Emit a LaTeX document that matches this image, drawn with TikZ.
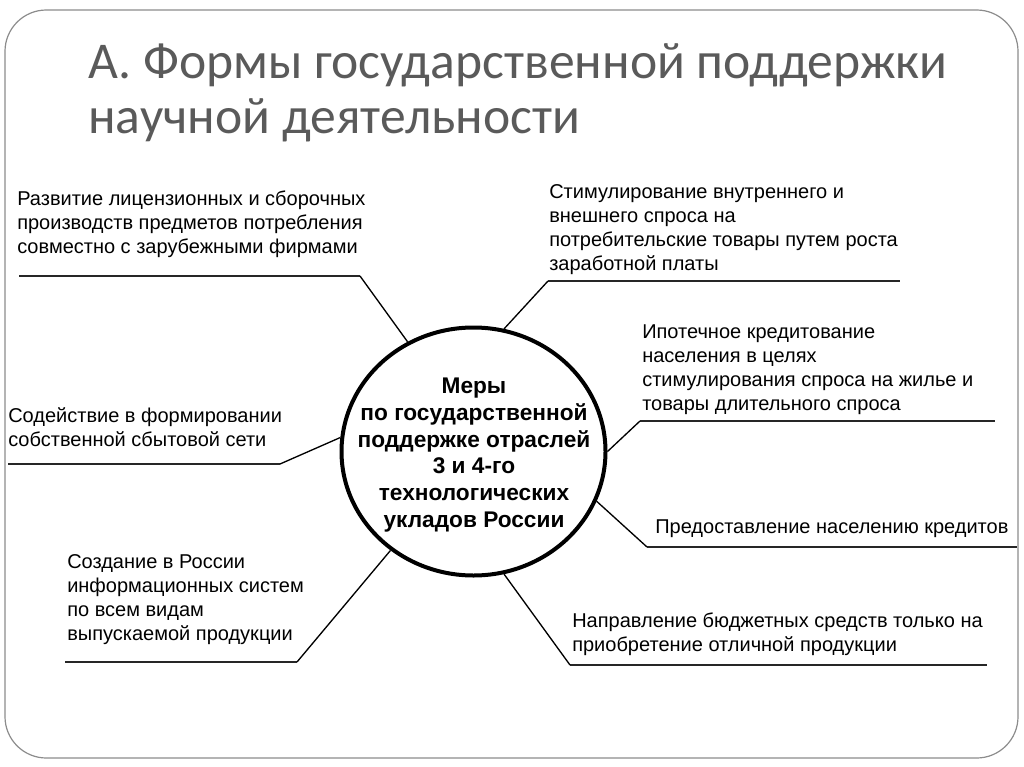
\documentclass[tikz,border=0pt]{standalone}
\usepackage{fontspec}
\setmainfont{Liberation Sans}
\newfontfamily\titlefont{Carlito}
\usetikzlibrary{shapes.geometric}
\definecolor{titlegray}{RGB}{90,90,90}
\definecolor{framegray}{RGB}{140,140,140}
\begin{document}
\begin{tikzpicture}[x=0.75pt,y=-0.75pt,
  lbl/.style={anchor=base west, align=left, inner sep=0pt, font=\fontsize{15pt}{18pt}\selectfont},
  uline/.style={line width=1.4pt, draw=black!85},
  conn/.style={line width=1pt, draw=black},
  hub/.style={ellipse, draw, line width=3pt, minimum width=198pt, minimum height=186pt, inner sep=0pt}]
\useasboundingbox (0,0) rectangle (1024,767);
\draw[framegray, line width=0.9pt, rounded corners=31pt] (5,10) rectangle (1018,758);

\node[anchor=base west, inner sep=0pt, text=titlegray, align=left,
      font=\titlefont\fontsize{38.7pt}{41.25pt}\selectfont] (title) at (88,133)
  {А. Формы государственной поддержки\\научной деятельности};

\node[hub] (c) at (473.5,451.5) {};
\node[anchor=base, align=center, inner sep=0pt,
      font=\bfseries\fontsize{17pt}{20pt}\selectfont] (ctext) at (474,527)
  {Меры\\по государственной\\поддержке отраслей\\3 и 4-го\\технологических\\укладов России};

% labels (anchored at the baseline of their last line)
\node[lbl] (l1) at (17,253) {Развитие лицензионных и сборочных\\производств предметов потребления\\совместно с зарубежными фирмами};
\node[lbl] (l2) at (8,446) {Содействие в формировании\\собственной сбытовой сети};
\node[lbl] (l3) at (67,640) {Создание в России\\информационных систем\\по всем видам\\выпускаемой продукции};
\node[lbl] (l4) at (549,270) {Стимулирование внутреннего и\\внешнего спроса на\\потребительские товары путем роста\\заработной платы};
\node[lbl] (l5) at (642,410) {Ипотечное кредитование\\населения в целях\\стимулирования спроса на жилье и\\товары длительного спроса};
\node[lbl] (l6) at (655,533) {Предоставление населению кредитов};
\node[lbl] (l7) at (572,651) {Направление бюджетных средств только на\\приобретение отличной продукции};

% underline ends
\coordinate (u1a) at (19,276);  \coordinate (u1b) at (360,276);
\coordinate (u2a) at (8,464);   \coordinate (u2b) at (280,464);
\coordinate (u3a) at (65,662);  \coordinate (u3b) at (297,662);
\coordinate (u4a) at (548,281); \coordinate (u4b) at (900,281);
\coordinate (u5a) at (640,421); \coordinate (u5b) at (995,421);
\coordinate (u6a) at (647,547); \coordinate (u6b) at (1017,547);
\coordinate (u7a) at (570,665); \coordinate (u7b) at (987,665);

\draw[uline] (u1a) -- (u1b);
\draw[uline] (u2a) -- (u2b);
\draw[uline] (u3a) -- (u3b);
\draw[uline] (u4a) -- (u4b);
\draw[uline] (u5a) -- (u5b);
\draw[uline] (u6a) -- (u6b);
\draw[uline] (u7a) -- (u7b);

\draw[conn] (u1b) -- (c.121);
\draw[conn] (u2b) -- (c.174);
\draw[conn] (u3b) -- (c.230.6);
\draw[conn] (u4a) -- (c.76.4);
\draw[conn] (u5a) -- (c.-0.6);
\draw[conn] (u6a) -- (c.-22.2);
\draw[conn] (u7a) -- (c.-76.6);
\end{tikzpicture}
\end{document}
